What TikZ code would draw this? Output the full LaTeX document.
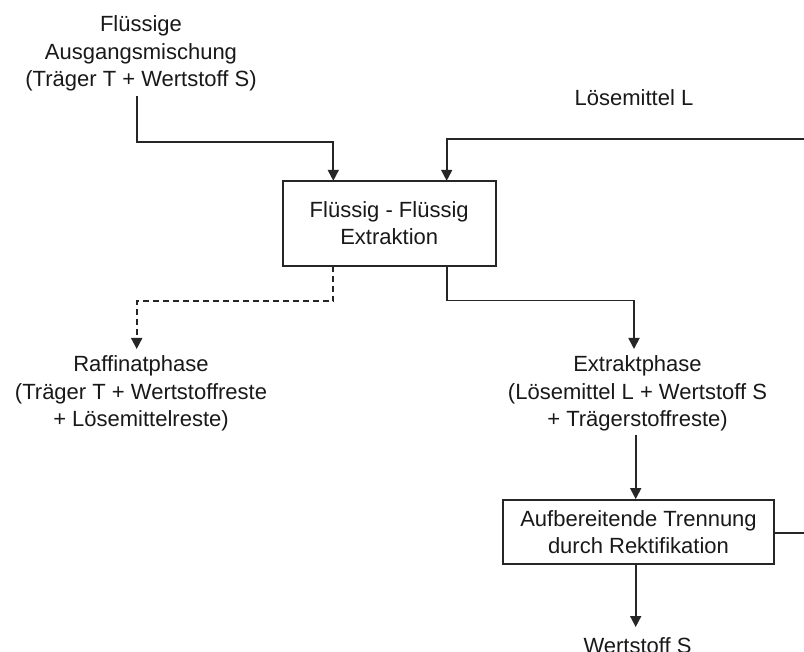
\documentclass[tikz,border=0pt]{standalone}
\usepackage{fontspec}
\setmainfont{Liberation Sans}
\usetikzlibrary{arrows.meta}
\begin{document}
\begin{tikzpicture}[x=1pt,y=-1pt,
  every node/.style={font=\fontsize{22}{27.5}\selectfont, text=black!90, inner sep=0pt, align=center},
  flow/.style={draw=black!85, line width=1.8pt, -{Triangle[length=11pt,width=11pt]}},
  link/.style={draw=black!85, line width=1.8pt},
  dashflow/.style={flow, dash pattern=on 6pt off 4pt},
  procbox/.style={draw=black!85, line width=1.8pt, fill=white}]
  \clip (0,0) rectangle (804,652);
  \fill[white] (0,0) rectangle (804,652);

  % feed streams (base = baseline of the last line)
  \node[anchor=base] (feed) at (141,87) {Flüssige\\Ausgangsmischung\\(Träger T + Wertstoff S)};
  \node[anchor=base] (solv) at (634,106) {Lösemittel L};

  % extraction unit
  \node[procbox, minimum width=213pt, minimum height=85pt] (extr) at (389.2,223.3) {Flüssig - Flüssig\\Extraktion};

  % product phases
  \node[anchor=base] (raff) at (141,426.7) {Raffinatphase\\(Träger T + Wertstoffreste\\+ Lösemittelreste)};
  \node[anchor=base] (extp) at (637.5,427) {Extraktphase\\(Lösemittel L + Wertstoff S\\+ Trägerstoffreste)};

  % rectification unit
  \node[procbox, minimum width=271pt, minimum height=64pt] (rect) at (638.5,532) {Aufbereitende Trennung\\durch Rektifikation};
  \node[anchor=base] (prod) at (637.5,653) {Wertstoff S};

  % loose ends of the solvent loop
  \coordinate (loopin) at (806,139);
  \coordinate (loopout) at (806,533);

  % feed into extraction
  \draw[flow] (136.7,96) |- (333.3,141.7) -- (333.3,180.8);
  \draw[flow] (loopin) -| (446.7,180.8);

  % raffinate and extract
  \draw[dashflow] (333.3,265.8) |- (136.7,301) -- (136.7,349);
  \draw[flow] (446.7,265.8) |- (634,300.5) -- (634,349);

  % extract to rectification
  \draw[flow] (635.7,435) -- (rect.north -| 635.7,0);
  \draw[link] (rect.east |- 0,533) -- (loopout);
  \draw[flow] (rect.south -| 635.7,0) -- (635.7,627);
\end{tikzpicture}
\end{document}
